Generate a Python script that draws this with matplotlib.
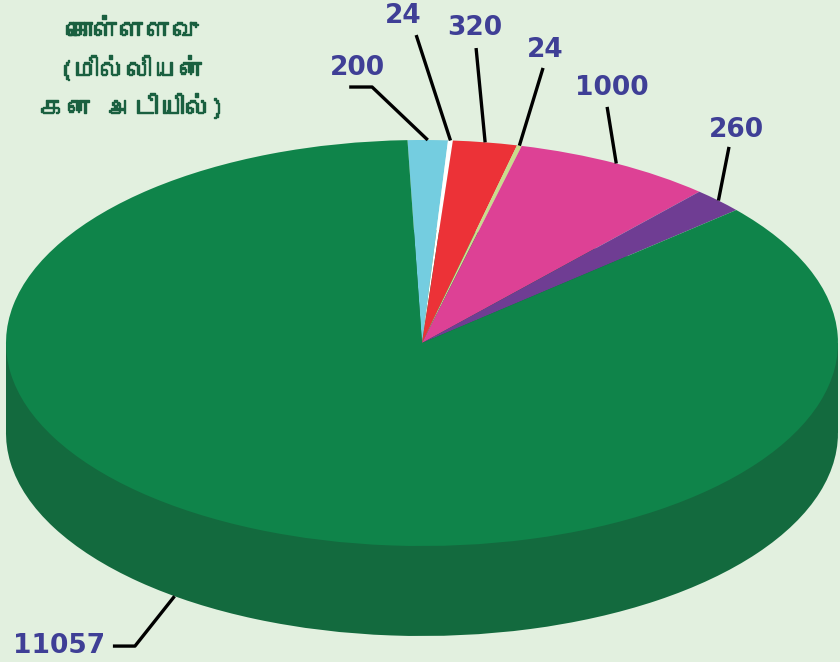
import matplotlib
matplotlib.use("Agg")
import matplotlib.pyplot as plt
import matplotlib.patheffects as pe
import numpy as np
from matplotlib import font_manager
from matplotlib.ft2font import FT2Font

# data
values = [200, 24, 320, 24, 1000, 260, 11057]
labels = ["200", "24", "320", "24", "1000", "260", "11057"]
colors = ["#74cde0", "#ffffff", "#ec3237", "#c8dc8c", "#dd4195", "#6f3d93", "#0f844a"]
title_lines = ["கொள்ளளவு", "(மில்லியன்", "கன அடியில்)"]

# find a font with tamil glyphs if any
tamil_font = None
for f in font_manager.fontManager.ttflist:
    try:
        if 0x0B95 in FT2Font(f.fname).get_charmap():
            tamil_font = f.name
            break
    except Exception:
        pass
fams = [tamil_font, "DejaVu Sans"] if tamil_font else ["DejaVu Sans"]

bg = "#e2f0df"
fig = plt.figure(figsize=(8.4, 6.62), dpi=100, facecolor=bg)
ax = fig.add_axes([0, 0, 1, 1])
ax.set_facecolor(bg)

depth = 90 / 203
start = 92

# side of the pie
ax.pie(values, colors=["#136a3e"] * len(values), startangle=start, counterclock=False,
       center=(0, -depth), radius=1, wedgeprops=dict(linewidth=0))
ax.add_patch(plt.Rectangle((-1, -depth), 2, depth, color="#136a3e", lw=0))
# top face
wedges, _ = ax.pie(values, colors=colors, startangle=start, counterclock=False,
                   radius=1, wedgeprops=dict(linewidth=0))

ax.set_aspect("auto")
ax.set_xlim(-422 / 416, 418 / 416)
ax.set_ylim(-319 / 203, 343 / 203)
ax.axis("off")

# label text centres and leader line ends, in data units
label_pos = [(-0.156, 1.355), (-0.046, 1.611), (0.127, 1.552), (0.296, 1.443),
             (0.457, 1.256), (0.755, 1.049), (-0.873, -1.493)]
line_end = [(-0.120, 1.261), (-0.014, 1.517), (0.130, 1.453), (0.291, 1.355),
            (0.445, 1.163), (0.738, 0.966), (-0.690, -1.493)]
tails = {0: (-0.175, 1.261), 6: (-0.743, -1.493)}
lab_color = "#3f3f96"
for i, w in enumerate(wedges):
    mid = np.deg2rad((w.theta1 + w.theta2) / 2)
    if i == 6:
        mid = np.deg2rad(233.5)
        p = (np.cos(mid), np.sin(mid) - depth)
    else:
        p = (np.cos(mid), np.sin(mid))
    xs = [p[0], line_end[i][0]]
    ys = [p[1], line_end[i][1]]
    if i in tails:
        xs.append(tails[i][0])
        ys.append(tails[i][1])
    ax.plot(xs, ys, color="black", lw=2.4, solid_capstyle="butt")
    ax.text(label_pos[i][0], label_pos[i][1], labels[i], color=lab_color, fontsize=19,
            fontweight="bold", ha="center", va="center")

# title
for j, line in enumerate(title_lines):
    fig.text(132 / 840, 1 - (31 + j * 38) / 662, line, color="#1a6040", fontsize=19,
             fontweight="bold", ha="center", va="center", family=fams,
             path_effects=[pe.withStroke(linewidth=1.0, foreground="#1a6040")])

fig.savefig("out.png", dpi=100, facecolor=bg)
